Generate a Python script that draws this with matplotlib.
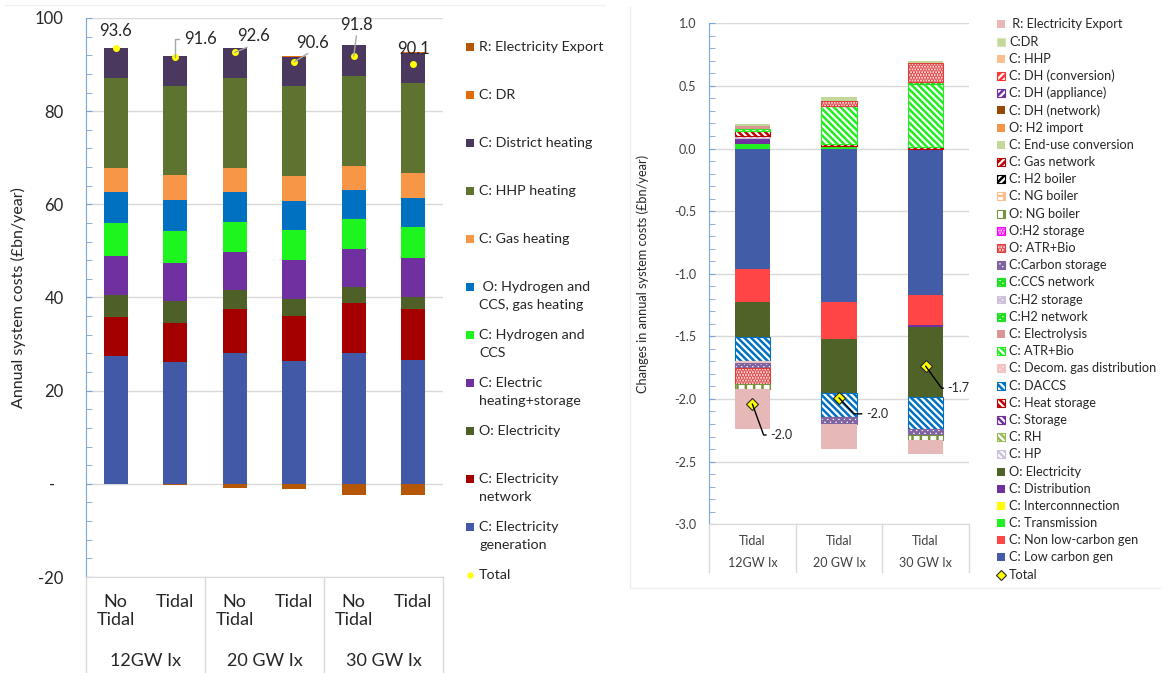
import matplotlib
matplotlib.use('Agg')
import matplotlib.pyplot as plt
from matplotlib.patches import Rectangle
from matplotlib.lines import Line2D
from matplotlib.ticker import MultipleLocator, FixedLocator
import numpy as np

plt.rcParams['font.family'] = ['Lato', 'DejaVu Sans']
plt.rcParams['hatch.linewidth'] = 1.8

W, H = 1164, 673

# ---------------- left panel: annual system costs ----------------
groups = ['12GW Ix', '20 GW Ix', '30 GW Ix']
cases = ['No\nTidal', 'Tidal', 'No\nTidal', 'Tidal', 'No\nTidal', 'Tidal']

elec_gen = [27.5, 26.2, 28.0, 26.4, 28.1, 26.6]
elec_net = [8.3, 8.4, 9.6, 9.7, 10.8, 11.0]
o_elec = [4.8, 4.6, 4.0, 3.6, 3.3, 2.6]
elec_heat = [8.3, 8.3, 8.2, 8.3, 8.3, 8.3]
h2_ccs = [7.0, 6.8, 6.5, 6.5, 6.3, 6.6]
o_h2_gas = [6.8, 6.7, 6.4, 6.3, 6.2, 6.3]
gas_heat = [5.2, 5.2, 5.2, 5.3, 5.3, 5.3]
hhp_heat = [19.2, 19.3, 19.2, 19.2, 19.3, 19.3]
dist_heat = [6.4, 6.3, 6.4, 6.4, 6.5, 6.5]
dr = [0.1, 0.1, 0.1, 0.1, 0.1, 0.1]
export = [0.0, -0.3, -1.0, -1.2, -2.4, -2.5]

left_series = [elec_gen, elec_net, o_elec, elec_heat, h2_ccs, o_h2_gas,
               gas_heat, hhp_heat, dist_heat, dr, export]
left_labels = ['C: Electricity\ngeneration', 'C: Electricity\nnetwork',
               'O: Electricity', 'C: Electric\nheating+storage',
               'C: Hydrogen and\nCCS', ' O: Hydrogen and\nCCS, gas heating',
               'C: Gas heating', 'C: HHP heating', 'C: District heating',
               'C: DR', 'R: Electricity Export']
left_colors = ['#4259a8', '#a50000', '#4e5f27', '#7030a0', '#1ef51e',
               '#0070c0', '#f79646', '#5f7330', '#4a385e', '#e36c0a',
               '#b65708']

# ---------------- right panel: change in costs with tidal ----------------
right_groups = ['12GW Ix', '20 GW Ix', '30 GW Ix']
right_cases = ['Tidal', 'Tidal', 'Tidal']

low_carbon_gen = [-0.960, -1.227, -1.171]
non_low_carbon_gen = [-0.267, -0.297, -0.239]
transmission = [0.040, 0.020, 0.0]
interconnection = [0.0, 0.0, 0.0]
distribution = [0.048, 0.0, -0.016]
o_electricity = [-0.280, -0.431, -0.556]
c_hp = [0.016, 0.0, 0.0]
c_rh = [0.0, 0.0, 0.0]
c_storage = [0.0, 0.0, 0.0]
heat_storage = [0.035, 0.013, 0.015]
daccs = [-0.187, -0.192, -0.261]
decom_gas = [-0.020, 0.0, 0.0]
c_atr_bio = [0.020, 0.306, 0.500]
electrolysis = [0.020, 0.0, 0.0]
h2_network = [0.0, 0.0, 0.020]
h2_storage = [0.0, 0.0, 0.0]
ccs_network = [0.0, 0.0, 0.0]
carbon_storage = [-0.040, -0.053, -0.045]
o_atr_bio = [-0.125, 0.043, 0.146]
o_h2_storage = [0.0, 0.0, 0.0]
o_ng_boiler = [-0.040, 0.0, -0.040]
c_ng_boiler = [0.0, 0.0, 0.0]
h2_boiler = [0.0, 0.0, 0.0]
gas_network = [0.0, 0.0, 0.0]
end_use_conv = [0.0, 0.0, 0.0]
h2_import = [0.0, 0.0, 0.0]
dh_network = [0.0, 0.0, 0.0]
dh_appliance = [0.0, 0.0, 0.0]
dh_conversion = [0.0, 0.0, 0.0]
c_hhp = [0.0, 0.0, 0.0]
c_dr = [0.020, 0.027, 0.019]
export_chg = [-0.320, -0.200, -0.110]

right_series = [low_carbon_gen, non_low_carbon_gen, transmission,
                interconnection, distribution, o_electricity, c_hp, c_rh,
                c_storage, heat_storage, daccs, decom_gas, c_atr_bio,
                electrolysis, h2_network, h2_storage, ccs_network,
                carbon_storage, o_atr_bio, o_h2_storage, o_ng_boiler,
                c_ng_boiler, h2_boiler, gas_network, end_use_conv, h2_import,
                dh_network, dh_appliance, dh_conversion, c_hhp, c_dr,
                export_chg]
right_labels = ['C: Low carbon gen', 'C: Non low-carbon gen', 'C: Transmission',
                'C: Interconnnection', 'C: Distribution', 'O: Electricity',
                'C: HP', 'C: RH', 'C: Storage', 'C: Heat storage', 'C: DACCS',
                'C: Decom. gas distribution', 'C: ATR+Bio', 'C: Electrolysis',
                'C:H2 network', 'C:H2 storage', 'C:CCS network',
                'C:Carbon storage', 'O: ATR+Bio', 'O:H2 storage',
                'O: NG boiler', 'C: NG boiler', 'C: H2 boiler',
                'C: Gas network', 'C: End-use conversion', 'O: H2 import',
                'C: DH (network)', 'C: DH (appliance)', 'C: DH (conversion)',
                'C: HHP', 'C:DR', ' R: Electricity Export']
# (face, edge/hatch colour, hatch)
BS = '\\' * 5
FS = '/' * 5
CK = 'x' * 6
DT = '.' * 6
right_styles = [
    ('#435ca8', 'none', None), ('#ff4545', 'none', None),
    ('#22ee22', 'none', None), ('#ffff00', 'none', None),
    ('#7030a0', 'none', None), ('#4f6228', 'none', None),
    ('white', '#ccc0da', BS), ('white', '#9bbb59', BS),
    ('white', '#7030a0', BS), ('white', '#c00000', BS),
    ('white', '#0070c0', BS), ('white', '#f2c4c4', CK),
    ('white', '#22ee22', BS), ('#da9694', 'none', None),
    ('white', '#22dd22', CK), ('white', '#ccc0da', CK),
    ('white', '#22dd22', CK), ('white', '#8064a2', CK),
    ('white', '#e03c3c', DT), ('white', '#ff00ff', DT),
    ('white', '#76923c', '||'), ('white', '#fabf8f', '++'),
    ('white', '#000000', FS), ('white', '#c00000', FS),
    ('#c4d79b', 'none', None), ('#f79646', 'none', None),
    ('#984807', 'none', None), ('white', '#7030a0', FS),
    ('white', '#ff3333', FS), ('#fabf8f', 'none', None),
    ('#c4d79b', '#d8e4bc', None), ('#e6b9b8', 'none', None),
]


def fx(px):
    return px / W


def fy(py):
    return 1 - py / H


fig = plt.figure(figsize=(W / 100, H / 100), dpi=100)

# faint chart-area frames
fig.add_artist(Line2D([fx(5), fx(605)], [fy(5), fy(5)], color='#f0f0f0', lw=1))
fig.add_artist(Line2D([fx(630), fx(630)], [fy(7), fy(588)], color='#eeeeee', lw=1))
fig.add_artist(Line2D([fx(630), fx(1160)], [fy(588), fy(588)], color='#f0f0f0', lw=1))

grid_c = '#d9d9d9'
spine_c = '#7aa5d8'

# ================= left chart =================
ax1 = fig.add_axes([fx(86), fy(577), fx(443 - 86), (577 - 18) / H])
x1 = np.arange(len(cases))
pos = np.zeros(len(cases))
neg = np.zeros(len(cases))
for vals, col in zip(left_series, left_colors):
    v = np.array(vals, dtype=float)
    base = np.where(v >= 0, pos, neg)
    m = v != 0
    ax1.bar(x1[m], v[m], bottom=base[m], width=0.4, color=col, lw=0, zorder=2)
    pos = pos + np.clip(v, 0, None)
    neg = neg + np.clip(v, None, 0)
totals1 = pos + neg
ax1.plot(x1, totals1, 'o', ms=4, color='#ffff00', zorder=4)

ax1.set_xlim(-0.5, 5.5)
ax1.set_ylim(-20, 100)
ax1.yaxis.set_major_locator(FixedLocator([-20, 0, 20, 40, 60, 80, 100]))
ax1.set_yticklabels(['-20', '-  ', '20', '40', '60', '80', '100'])
ax1.yaxis.set_minor_locator(MultipleLocator(4))
ax1.tick_params(axis='y', which='both', direction='in', length=4, color=spine_c,
                labelsize=12, labelcolor='#262626', pad=16)
ax1.set_xticks(x1)
ax1.set_xticklabels(cases, fontsize=13, color='#262626')
ax1.tick_params(axis='x', length=0, pad=12)
ax1.grid(axis='y', color=grid_c, lw=1, zorder=0)
for s in ['top', 'right']:
    ax1.spines[s].set_visible(False)
ax1.spines['left'].set_color(spine_c)
ax1.spines['bottom'].set_color(grid_c)
ax1.set_ylabel('Annual system costs (£bn/year)', fontsize=11.5, color='#262626')
ax1.yaxis.set_label_coords((26 - 86) / (443 - 86), 0.5)

sep_depth = (673 - 577) / (577 - 18)
for xs in [-0.5, 1.5, 3.5, 5.5]:
    ax1.plot([xs, xs], [0, -sep_depth], transform=ax1.get_xaxis_transform(),
             color=grid_c, lw=1, clip_on=False)
for i, g in enumerate(groups):
    ax1.annotate(g, xy=(2 * i + 0.5, 0), xycoords=ax1.get_xaxis_transform(),
                 xytext=(0, -84 * 0.72), textcoords='offset points',
                 ha='center', va='center', fontsize=13, color='#262626')

# total labels (offsets in pixels from the marker)
left_offsets = [(0, 17, 'center', None), (9, 18, 'left', 'elbow'),
                (19, 16, 'center', 'diag'), (18, 19, 'center', 'diag'),
                (3, 31, 'center', 'diag'), (0, 15, 'center', None)]
for xi, t, (dx, dy, ha, lead) in zip(x1, totals1, left_offsets):
    kw = dict(xy=(xi, t), xytext=(dx * 0.72, dy * 0.72),
              textcoords='offset points', ha=ha, va='center', fontsize=12,
              color='#262626', zorder=5)
    if lead == 'elbow':
        kw['arrowprops'] = dict(arrowstyle='-', color='#a6a6a6', lw=1,
                                shrinkA=2, shrinkB=0, relpos=(0, 0.5),
                                connectionstyle='angle,angleA=0,angleB=90,rad=0')
    elif lead == 'diag':
        kw['arrowprops'] = dict(arrowstyle='-', color='#a6a6a6', lw=1,
                                shrinkA=0, shrinkB=0, relpos=(0.5, 0))
    ax1.annotate(f'{t:.1f}', **kw)

# left legend
for i, (lab, col) in enumerate(zip(left_labels[::-1], left_colors[::-1])):
    y = 47 + 48 * i
    fig.add_artist(Rectangle((fx(466), fy(y + 4)), fx(8), 8 / H, color=col,
                             transform=fig.transFigure, lw=0))
    for j, line in enumerate(lab.split('\n')):
        fig.text(fx(479), fy(y + 18 * j), line, fontsize=10.3, color='#262626',
                 va='center', ha='left')
y = 47 + 48 * len(left_labels)
fig.add_artist(Line2D([fx(470)], [fy(y)], marker='o', ms=3.5, color='#ffff00',
                      lw=0, transform=fig.transFigure))
fig.text(fx(479), fy(y), 'Total', fontsize=10.3, color='#262626', va='center')

# ================= right chart =================
ax2 = fig.add_axes([fx(709), fy(524.2), fx(969 - 709), (524.2 - 23.3) / H])
x2 = np.arange(len(right_cases))
pos = np.zeros(len(right_cases))
neg = np.zeros(len(right_cases))
for vals, (fc, ec, hatch) in zip(right_series, right_styles):
    v = np.array(vals, dtype=float)
    base = np.where(v >= 0, pos, neg)
    m = v != 0
    if m.any():
        ax2.bar(x2[m], v[m], bottom=base[m], width=0.41, facecolor=fc,
                edgecolor=ec, hatch=hatch, lw=0.8 if hatch else 0, zorder=2)
    pos = pos + np.clip(v, 0, None)
    neg = neg + np.clip(v, None, 0)
totals2 = pos + neg
ax2.plot(x2, totals2, 'D', ms=6, mfc='#ffff00', mec='#262626', mew=0.8,
         lw=0, zorder=5)

ax2.set_xlim(-0.5, 2.5)
ax2.set_ylim(-3.0, 1.0)
ax2.yaxis.set_major_locator(MultipleLocator(0.5))
ax2.yaxis.set_major_formatter(plt.FuncFormatter(lambda v, p: f'{v:.1f}'))
ax2.yaxis.set_minor_locator(MultipleLocator(0.1))
ax2.tick_params(axis='y', which='both', direction='in', length=4, color=spine_c,
                labelsize=9, labelcolor='#404040', pad=9)
ax2.set_xticks(x2)
ax2.set_xticklabels(right_cases, fontsize=9, color='#404040')
ax2.tick_params(axis='x', length=0, pad=8)
ax2.grid(axis='y', color=grid_c, lw=1, zorder=0)
for s in ['top', 'right']:
    ax2.spines[s].set_visible(False)
ax2.spines['left'].set_color(spine_c)
ax2.spines['bottom'].set_color(grid_c)
ax2.set_ylabel('Changes in annual system costs (£bn/year)', fontsize=9.2,
               color='#262626')
ax2.yaxis.set_label_coords((649 - 709) / (969 - 709), 0.5)

sep_depth2 = (572 - 524.2) / (524.2 - 23.3)
for xs in [-0.5, 0.5, 1.5, 2.5]:
    ax2.plot([xs, xs], [0, -sep_depth2], transform=ax2.get_xaxis_transform(),
             color=grid_c, lw=1, clip_on=False)
for i, g in enumerate(right_groups):
    ax2.annotate(g, xy=(i, 0), xycoords=ax2.get_xaxis_transform(),
                 xytext=(0, -39 * 0.72), textcoords='offset points',
                 ha='center', va='center', fontsize=9, color='#404040')

right_offsets = [(18, -31, -70), (27, -16, -47), (22, -22, -54)]
for xi, t, (dx, dy, ang) in zip(x2, totals2, right_offsets):
    ax2.annotate(f'{t:.1f}', xy=(xi, t), xytext=(dx * 0.72, dy * 0.72),
                 textcoords='offset points', ha='left', va='center',
                 fontsize=9, color='#262626', zorder=6,
                 arrowprops=dict(arrowstyle='-', color='black', lw=1,
                                 shrinkA=1, shrinkB=0, relpos=(0, 0.5),
                                 connectionstyle=f'angle,angleA=0,angleB={ang},rad=0'))

# right legend
for i, (lab, (fc, ec, hatch)) in enumerate(zip(right_labels[::-1],
                                                right_styles[::-1])):
    y = 24.3 + 17.2 * i
    fig.add_artist(Rectangle((fx(997), fy(y + 4)), fx(8), 8 / H, facecolor=fc,
                             edgecolor=ec, hatch=hatch,
                             lw=0.8 if hatch or ec != 'none' else 0,
                             transform=fig.transFigure))
    fig.text(fx(1009), fy(y), lab, fontsize=9.2, color='#262626', va='center')
y = 24.3 + 17.2 * len(right_labels)
fig.add_artist(Line2D([fx(1001)], [fy(y)], marker='D', ms=5, mfc='#ffff00',
                      mec='#262626', mew=0.8, lw=0, transform=fig.transFigure))
fig.text(fx(1009), fy(y), 'Total', fontsize=9.2, color='#262626', va='center')

fig.savefig('out.png', dpi=100, facecolor='white')
